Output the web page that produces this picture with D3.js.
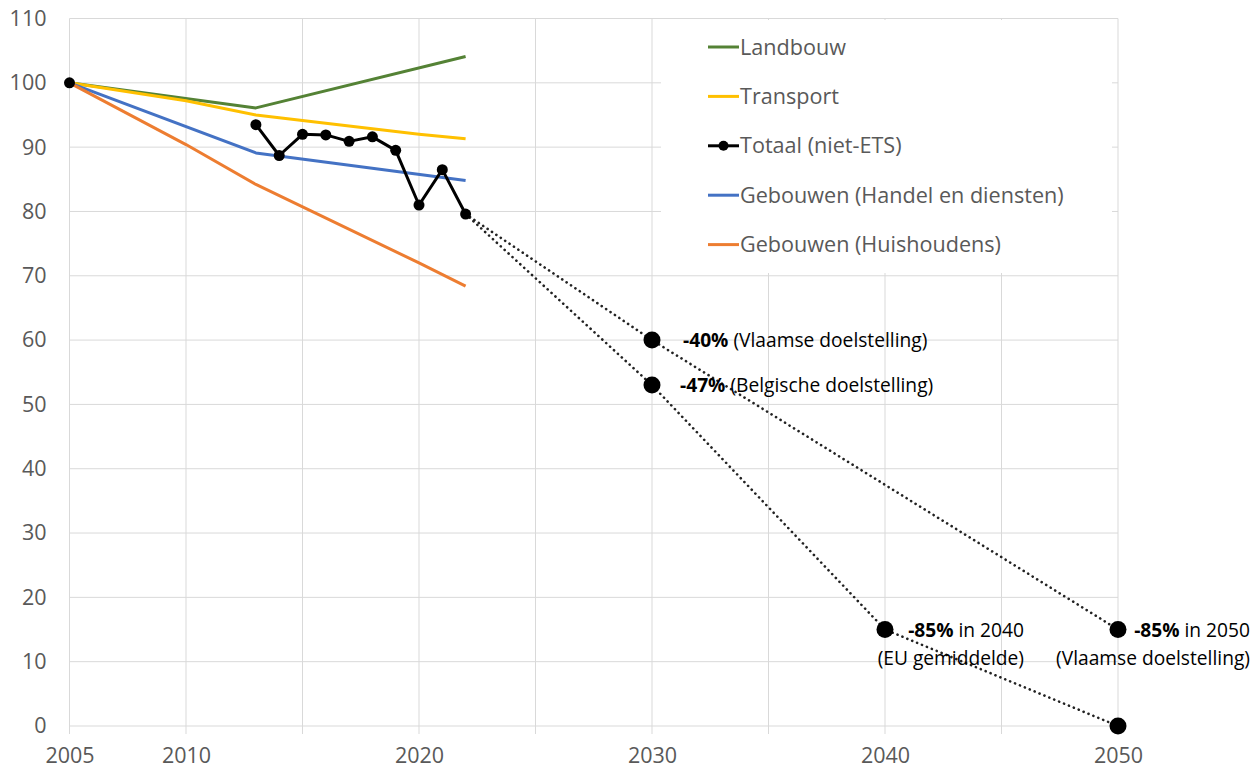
<!DOCTYPE html>
<html>
<head>
<meta charset="utf-8">
<script src="https://cdn.jsdelivr.net/npm/d3@7"></script>
<style>
  html, body { margin: 0; padding: 0; background: #fff; }
  svg { display: block; font-family: "Open Sans", sans-serif; }
</style>
</head>
<body>
<svg id="chart" width="1259" height="771"></svg>
<script>
// ---------- data ----------
const gridYears = [2005, 2010, 2015, 2020, 2025, 2030, 2035, 2040, 2045, 2050];
const xTickLabels = [2005, 2010, 2020, 2030, 2040, 2050];
const yTicks = [0, 10, 20, 30, 40, 50, 60, 70, 80, 90, 100, 110];

const landbouwYears = [2005, 2013, 2022];
const landbouwValues = [100, 96.1, 104.1];

const transportYears = [2005, 2010, 2013, 2020, 2022];
const transportValues = [100, 97.2, 95.0, 92.0, 91.3];

const handelYears = [2005, 2013, 2022];
const handelValues = [100, 89.1, 84.8];

const huisYears = [2005, 2010, 2013, 2020, 2022];
const huisValues = [100, 90.4, 84.2, 72.0, 68.4];

const totaalYears = [2005, 2013, 2014, 2015, 2016, 2017, 2018, 2019, 2020, 2021, 2022];
const totaalValues = [100, 93.5, 88.7, 92.0, 91.9, 90.9, 91.6, 89.5, 81.0, 86.5, 79.6];

const pathVlaamsYears = [2022, 2030, 2050];
const pathVlaamsValues = [79.6, 60, 15];
const pathEUYears = [2022, 2030, 2040, 2050];
const pathEUValues = [79.6, 53, 15, 0];

const targetYears = [2030, 2030, 2040, 2050, 2050];
const targetValues = [60, 53, 15, 15, 0];

const legendNames = ["Landbouw", "Transport", "Totaal (niet-ETS)", "Gebouwen (Handel en diensten)", "Gebouwen (Huishoudens)"];
const legendColors = ["#548235", "#FFC000", "#000000", "#4472C4", "#ED7D31"];

// ---------- scales ----------
const svg = d3.select("#chart");
const x = d3.scaleLinear().domain([2005, 2050]).range([69.5, 1118]);
const y = d3.scaleLinear().domain([0, 110]).range([726, 18.5]);
const zip = (xs, vs) => xs.map((v, i) => ({ year: v, value: vs[i] }));
const line = d3.line().x(d => x(d.year)).y(d => y(d.value));

// ---------- grid ----------
const grid = svg.append("g");
grid.selectAll("line.h").data(yTicks).join("line")
  .attr("x1", x(2005)).attr("x2", x(2050))
  .attr("y1", d => y(d)).attr("y2", d => y(d))
  .attr("stroke", "#d9d9d9").attr("stroke-width", 1);
grid.selectAll("line.v").data(gridYears).join("line")
  .attr("x1", d => x(d)).attr("x2", d => x(d))
  .attr("y1", y(110)).attr("y2", y(0) + 8)
  .attr("stroke", "#d9d9d9").attr("stroke-width", 1);

// ---------- axes labels ----------
const yAxis = d3.axisLeft(y).tickValues(yTicks).tickSize(0).tickPadding(23);
const gy = svg.append("g").attr("transform", `translate(${x(2005)},0)`).call(yAxis);
gy.select(".domain").remove();
gy.selectAll("text").attr("font-family", "Open Sans").attr("font-size", 21.5).attr("fill", "#595959");

const xAxis = d3.axisBottom(x).tickValues(xTickLabels).tickFormat(d3.format("d")).tickSize(0).tickPadding(22);
const gx = svg.append("g").attr("transform", `translate(0,${y(0)})`).call(xAxis);
gx.select(".domain").remove();
gx.selectAll("text").attr("font-family", "Open Sans").attr("font-size", 21.5).attr("fill", "#595959");

// ---------- legend background ----------
svg.append("rect").attr("x", 661).attr("y", 20).attr("width", 451).attr("height", 253).attr("fill", "#fff");

// ---------- series ----------
const series = [
  { data: zip(landbouwYears, landbouwValues), color: legendColors[0] },
  { data: zip(transportYears, transportValues), color: legendColors[1] },
  { data: zip(handelYears, handelValues), color: legendColors[3] },
  { data: zip(huisYears, huisValues), color: legendColors[4] }
];
series.forEach(s => {
  svg.append("path").datum(s.data).attr("d", line)
    .attr("fill", "none").attr("stroke", s.color).attr("stroke-width", 3)
    .attr("stroke-linejoin", "round");
});

// dotted projections
[zip(pathVlaamsYears, pathVlaamsValues), zip(pathEUYears, pathEUValues)].forEach(d => {
  svg.append("path").datum(d).attr("d", line)
    .attr("fill", "none").attr("stroke", "#222").attr("stroke-width", 2.6)
    .attr("stroke-dasharray", "0.1 5.2").attr("stroke-linecap", "round");
});

// totaal
const totaal = zip(totaalYears, totaalValues);
svg.append("path").datum(totaal.filter(d => d.year >= 2013)).attr("d", line)
  .attr("fill", "none").attr("stroke", "#000").attr("stroke-width", 3).attr("stroke-linejoin", "round");
svg.selectAll("circle.tot").data(totaal).join("circle")
  .attr("cx", d => x(d.year)).attr("cy", d => y(d.value)).attr("r", 5.5).attr("fill", "#000");

// targets
const targets = zip(targetYears, targetValues);
svg.selectAll("circle.tgt").data(targets).join("circle")
  .attr("cx", d => x(d.year)).attr("cy", d => y(d.value)).attr("r", 8.5).attr("fill", "#000");

// ---------- annotations ----------
function label(px, py, bold, rest, anchor) {
  const t = svg.append("text").attr("x", px).attr("y", py)
    .attr("font-family", "Open Sans").attr("font-size", 19.2).attr("fill", "#000")
    .attr("text-anchor", anchor || "start");
  if (bold) t.append("tspan").attr("font-weight", "bold").text(bold);
  t.append("tspan").text(rest);
}
label(x(2030) + 31, y(60) + 7, "-40%", " (Vlaamse doelstelling)");
label(x(2030) + 28, y(53) + 7, "-47%", " (Belgische doelstelling)");
label(x(2040) + 139, y(15) + 7, "-85%", " in 2040", "end");
label(x(2040) + 139, y(15) + 35, "", "(EU gemiddelde)", "end");
label(x(2050) + 132, y(15) + 7, "-85%", " in 2050", "end");
label(x(2050) + 132, y(15) + 35, "", "(Vlaamse doelstelling)", "end");

// ---------- legend ----------
const lg = svg.append("g");
legendNames.forEach((name, i) => {
  const ly = 47 + i * 49.4;
  lg.append("line").attr("x1", 708).attr("x2", 739).attr("y1", ly).attr("y2", ly)
    .attr("stroke", legendColors[i]).attr("stroke-width", 3);
  if (i === 2) lg.append("circle").attr("cx", 723.5).attr("cy", ly).attr("r", 5).attr("fill", "#000");
  lg.append("text").attr("x", 740).attr("y", ly).attr("dy", "0.35em")
    .attr("font-family", "Open Sans").attr("font-size", 21.6).attr("fill", "#595959").text(name);
});
</script>
</body>
</html>
